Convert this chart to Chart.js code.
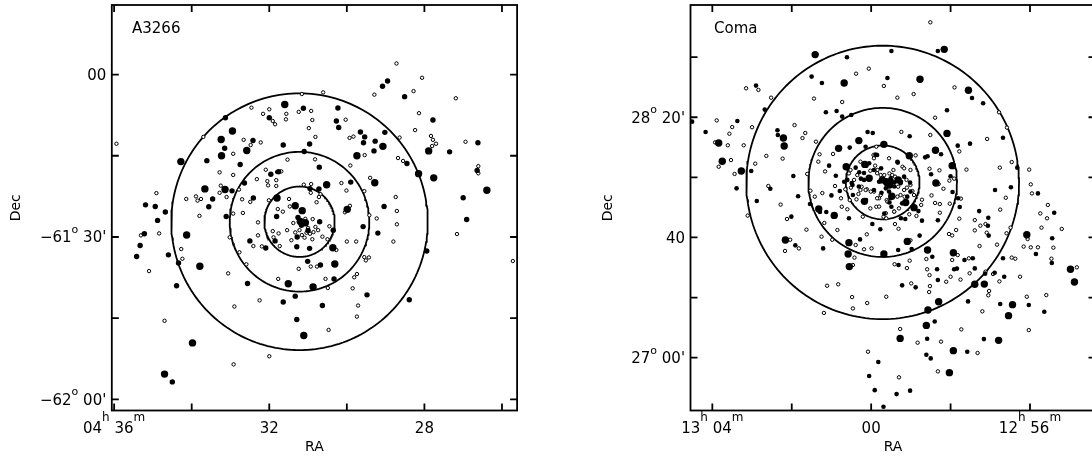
<!DOCTYPE html>
<html>
<head>
<meta charset="utf-8">
<title>A3266 and Coma</title>
<script src="https://cdn.jsdelivr.net/npm/chart.js@4.4.1/dist/chart.umd.min.js"></script>
<style>
  html, body { margin: 0; padding: 0; background: #fff; overflow: hidden; }
  #wrap { position: relative; width: 1092px; height: 461px; overflow: hidden; }
  canvas { position: absolute; top: 0; }
</style>
</head>
<body>
<div id="wrap">
  <canvas id="a3266Chart" width="546" height="461" style="left:0"></canvas>
  <canvas id="comaChart" width="560" height="461" style="left:546px"></canvas>
</div>
<script>
// ---- A3266 : RA in minutes past 04h, Dec in degrees ----
const a3266BigRA = [31.60, 32.95, 33.24, 32.58, 33.23, 29.07, 29.74, 27.89, 34.28, 28.15,
  27.76, 29.28, 30.52, 33.66, 33.14, 26.39, 31.80, 31.33, 31.15, 29.99,
  31.20, 31.07, 34.13, 30.36, 33.79, 30.31, 31.51, 30.87, 31.11, 33.98, 34.70];
const a3266BigDec = [-61.092, -61.174, -61.200, -61.234, -61.250, -61.221, -61.250, -61.235, -61.268, -61.305,
  -61.318, -61.333, -61.339, -61.352, -61.354, -61.356, -61.380, -61.404, -61.419, -61.415,
  -61.452, -61.456, -61.494, -61.533, -61.590, -61.583, -61.644, -61.654, -61.803, -61.826, -61.922];

const a3266MedRA = [28.95, 29.08, 28.51, 31.12, 30.23, 32.00, 33.13, 30.27, 30.21, 27.78,
  29.65, 29.54, 29.57, 29.02, 29.27, 32.42, 30.96, 31.64, 33.15, 31.10,
  29.30, 27.35, 26.62, 28.45, 33.61, 32.75, 30.71, 32.64, 31.96, 31.76,
  26.64, 29.90, 32.96, 30.95, 30.72, 35.19, 34.94, 34.68, 34.88, 35.22,
  35.33, 33.46, 33.56, 32.41, 29.04, 27.00, 26.91, 27.94, 33.11, 31.81,
  31.26, 30.70, 29.58, 29.20, 32.50, 32.09, 31.85, 31.28, 31.29, 30.96,
  30.35, 34.60, 34.34, 35.42, 31.01, 30.68, 32.56, 30.33, 34.39, 31.33,
  31.64, 29.48, 28.39, 30.63, 31.29, 34.50, 31.00, 31.17];
const a3266MedDec = [-61.020, -61.036, -61.068, -61.104, -61.103, -61.133, -61.133, -61.143, -61.163, -61.140,
  -61.177, -61.192, -61.210, -61.178, -61.205, -61.203, -61.214, -61.217, -61.227, -61.237,
  -61.235, -61.238, -61.210, -61.274, -61.265, -61.277, -61.285, -61.334, -61.307, -61.299,
  -61.295, -61.331, -61.358, -61.351, -61.352, -61.401, -61.406, -61.423, -61.449, -61.490,
  -61.526, -61.383, -61.407, -61.380, -61.406, -61.379, -61.446, -61.543, -61.437, -61.437,
  -61.440, -61.453, -61.468, -61.488, -61.512, -61.534, -61.512, -61.500, -61.530, -61.535,
  -61.479, -61.555, -61.580, -61.560, -61.575, -61.586, -61.643, -61.629, -61.650, -61.682,
  -61.700, -61.678, -61.693, -61.711, -61.754, -61.946, -61.480, -61.464];

const a3266OpenRA = [28.72, 29.29, 28.06, 28.28, 27.19, 31.16, 30.61, 31.24, 30.92, 32.46,
  32.00, 32.16, 31.56, 31.57, 31.91, 31.85, 30.03, 30.89, 30.98, 28.14,
  28.24, 29.93, 29.83, 28.64, 33.70, 32.66, 32.22, 32.48, 30.81, 32.93,
  29.54, 27.83, 27.78, 27.70, 27.80, 26.94, 28.68, 28.55, 30.82, 31.53,
  33.28, 32.93, 32.09, 31.80, 31.69, 29.91, 26.61, 26.61, 32.32, 32.05,
  32.03, 31.82, 31.82, 29.40, 30.14, 30.01, 29.55, 33.25, 33.28, 32.78,
  31.11, 30.92, 30.93, 34.91, 35.31, 34.84, 33.89, 34.14, 33.85, 33.76,
  33.10, 32.70, 32.49, 32.01, 31.49, 30.78, 30.72, 30.68, 31.78, 31.65,
  31.47, 28.74, 28.71, 28.71, 28.80, 30.05, 29.92, 27.16, 25.72, 33.80,
  32.93, 32.68, 32.29, 31.07, 30.88, 31.38, 30.45, 29.23, 29.42, 33.02,
  32.29, 32.41, 32.19, 31.91, 31.89, 31.73, 31.16, 31.09, 30.95, 30.86,
  30.89, 30.50, 30.27, 30.00, 29.76, 34.27, 34.24, 35.10, 32.59, 32.77,
  33.06, 30.93, 30.77, 31.24, 29.55, 29.43, 29.51, 31.77, 30.55, 30.49,
  29.81, 29.74, 29.85, 32.90, 32.25, 29.71, 29.74, 34.70, 30.47, 32.00,
  32.92, 35.94, 31.22, 31.00, 31.33, 30.81, 31.04, 30.74, 30.63, 31.43,
  31.76, 31.54];
const a3266OpenDec = [-60.966, -61.062, -61.010, -61.051, -61.073, -61.060, -61.055, -61.115, -61.112, -61.102,
  -61.107, -61.121, -61.121, -61.138, -61.143, -61.153, -61.139, -61.140, -61.165, -61.119,
  -61.171, -61.195, -61.191, -61.194, -61.192, -61.201, -61.209, -61.217, -61.192, -61.244,
  -61.248, -61.189, -61.201, -61.213, -61.220, -61.207, -61.257, -61.266, -61.261, -61.262,
  -61.301, -61.309, -61.293, -61.300, -61.298, -61.280, -61.282, -61.304, -61.322, -61.328,
  -61.341, -61.325, -61.343, -61.318, -61.334, -61.357, -61.359, -61.342, -61.364, -61.354,
  -61.339, -61.337, -61.364, -61.365, -61.495, -61.489, -61.375, -61.383, -61.388, -61.383,
  -61.377, -61.384, -61.392, -61.387, -61.383, -61.393, -61.377, -61.368, -61.414, -61.422,
  -61.406, -61.377, -61.420, -61.461, -61.514, -61.424, -61.404, -61.491, -61.574, -61.435,
  -61.428, -61.426, -61.455, -61.444, -61.445, -61.457, -61.467, -61.443, -61.433, -61.501,
  -61.495, -61.528, -61.529, -61.482, -61.501, -61.528, -61.494, -61.502, -61.490, -61.485,
  -61.507, -61.507, -61.540, -61.514, -61.514, -61.537, -61.567, -61.605, -61.584, -61.547,
  -61.612, -61.591, -61.591, -61.598, -61.562, -61.563, -61.572, -61.629, -61.629, -61.657,
  -61.624, -61.614, -61.658, -61.714, -61.695, -61.711, -61.745, -61.758, -61.786, -61.867,
  -61.892, -61.213, -61.479, -61.472, -61.486, -61.469, -61.487, -61.479, -61.499, -61.510,
  -61.489, -61.479];

const a3266Centre = [31.22, -61.453];   // RA min, Dec deg
const a3266Radii = [6.5, 12.9, 23.7];    // arcmin

const a3266RaTicks = [36, 34, 32, 30, 28, 26];
const a3266RaLabels = ['04^h 36^m', '', '32', '', '28', ''];
const a3266DecTicks = [-61, -61.25, -61.5, -61.75, -62];
const a3266DecLabels = ['00', '', '\u221261^o 30\'', '', '\u221262^o 00\''];

// ---- Coma : RA in minutes past 12h, Dec in degrees ----
const comaBigRA = [58.16, 61.41, 60.68, 58.77, 57.55, 62.21, 58.09, 60.31, 62.19, 63.84,
  63.27, 63.75, 60.82, 59.68, 58.38, 59.04, 57.96, 60.63, 60.16, 58.37,
  62.16, 56.08, 54.98, 54.88, 59.62, 59.54, 60.17, 58.92, 59.13, 61.32,
  60.93, 60.58, 60.56, 59.68, 59.09, 60.55, 58.58, 57.93, 57.39, 57.15,
  58.30, 58.57, 58.61, 59.27, 56.79, 56.44, 56.54, 57.93, 58.03, 59.48,
  59.72, 59.59, 59.32, 60.05];
const comaBigDec = [28.710, 28.681, 28.523, 28.544, 28.483, 28.218, 28.244, 28.204, 28.174, 28.191,
  28.035, 28.089, 28.161, 28.183, 28.150, 28.120, 28.065, 28.059, 28.072, 27.969,
  27.653, 27.682, 27.490, 27.420, 27.976, 27.958, 27.867, 27.832, 27.861, 27.825,
  27.789, 27.575, 27.638, 27.575, 27.645, 27.505, 27.597, 27.582, 27.407, 27.408,
  27.310, 27.264, 27.179, 27.107, 27.096, 27.294, 27.233, 27.039, 26.917, 27.895,
  27.986, 27.967, 27.986, 27.995];

const comaMedRA = [58.32, 59.49, 60.61, 61.50, 61.24, 59.59, 57.46, 57.18, 62.90, 62.68,
  61.14, 60.87, 60.73, 60.50, 58.09, 64.51, 64.17, 63.37, 62.36, 62.35,
  59.03, 60.09, 59.96, 56.68, 57.51, 63.02, 60.54, 60.14, 57.82, 58.58,
  58.24, 56.32, 55.80, 56.88, 56.48, 55.39, 61.96, 61.84, 62.88, 62.54,
  63.39, 62.01, 61.91, 61.21, 60.89, 61.06, 60.68, 60.49, 60.12, 60.18,
  60.26, 58.64, 58.49, 58.00, 57.95, 57.81, 58.81, 59.25, 59.14, 58.72,
  58.32, 57.77, 57.28, 57.05, 57.06, 57.04, 55.44, 55.45, 55.85, 56.68,
  56.65, 56.89, 60.39, 60.30, 59.89, 59.75, 59.49, 59.42, 59.74, 59.54,
  59.49, 59.33, 59.25, 59.02, 60.46, 60.13, 59.97, 59.77, 59.67, 61.54,
  61.29, 61.13, 60.56, 60.79, 61.00, 60.28, 59.32, 58.98, 58.78, 59.31,
  59.22, 58.88, 58.46, 58.34, 58.32, 57.91, 57.84, 57.65, 57.44, 57.39,
  57.13, 58.40, 58.59, 57.56, 57.16, 56.75, 56.03, 55.64, 57.58, 58.61,
  58.50, 59.02, 59.36, 59.91, 60.05, 59.82, 59.69,
  59.51, 59.42, 59.55, 59.63, 59.80, 59.26, 59.17, 59.09, 59.51, 59.93,
  60.05, 59.85, 60.60, 60.47, 60.31, 60.18, 59.93, 59.34, 59.05, 59.01, 59.22];
const comaMedDec = [28.701, 28.701, 28.666, 28.559, 28.523, 28.551, 28.440, 28.411, 28.509, 28.376,
  28.361, 28.368, 28.337, 28.346, 28.372, 28.309, 28.252, 28.313, 28.261, 28.235,
  28.228, 28.252, 28.246, 28.220, 28.187, 28.035, 28.165, 28.170, 28.176, 28.117,
  28.128, 28.054, 27.911, 27.930, 27.945, 27.804, 28.008, 27.895, 27.869, 27.937,
  27.939, 27.782, 27.623, 27.606, 28.009, 28.065, 27.976, 27.969, 28.065, 28.024,
  27.993, 28.111, 28.017, 28.006, 27.919, 27.884, 27.813, 27.773, 27.769, 27.760,
  27.762, 27.836, 27.813, 27.776, 27.732, 27.677, 27.662, 27.525, 27.575, 27.551,
  27.449, 27.471, 28.054, 28.028, 28.126, 28.050, 27.985, 27.972, 27.915, 27.861,
  27.837, 28.082, 27.976, 27.971, 27.902, 27.874, 27.741, 27.712, 27.800, 27.852,
  27.808, 27.808, 27.773, 27.924, 27.900, 27.656, 27.597, 27.603, 27.677, 27.514,
  27.401, 27.390, 27.560, 27.490, 27.431, 27.490, 27.494, 27.542, 27.551, 27.495,
  27.466, 27.201, 27.105, 27.312, 27.103, 27.298, 27.292, 27.255, 27.033, 27.016,
  26.996, 26.817, 26.798, 26.820, 26.898, 26.976, 26.728,
  27.995, 27.949, 27.921, 27.939, 27.976, 27.967, 28.004, 27.893, 27.884, 28.041,
  28.078, 28.124, 27.986, 27.958, 27.949, 27.986, 27.930, 28.087, 28.124, 27.921, 27.856];

const comaOpenRA = [58.51, 60.06, 60.38, 59.68, 57.90, 58.93, 59.34, 61.44, 60.73, 63.15,
  62.84, 62.52, 56.78, 63.89, 63.50, 63.57, 63.00, 61.93, 61.66, 61.73,
  58.39, 58.51, 59.24, 61.39, 56.58, 57.08, 63.93, 63.61, 63.21, 62.92,
  63.53, 63.84, 63.44, 62.64, 62.23, 59.87, 57.78, 58.88, 57.60, 56.76,
  56.46, 56.02, 55.98, 55.95, 56.61, 55.55, 55.74, 55.57, 55.71, 55.20,
  61.61, 62.28, 63.11, 62.59, 62.12, 62.17, 62.04, 61.82, 61.63, 61.25,
  61.16, 61.30, 61.33, 60.65, 60.02, 59.90, 59.94, 58.53, 58.28, 58.30,
  58.18, 58.03, 57.91, 58.02, 58.27, 58.39, 58.48, 58.72, 58.74, 59.04,
  58.86, 59.40, 59.31, 58.27, 58.04, 57.96, 57.86, 57.78, 57.74, 57.39,
  57.25, 57.12, 57.39, 57.09, 57.27, 56.06, 56.16, 55.98, 55.80, 55.41,
  55.46, 56.49, 56.59, 56.83, 54.82, 56.46, 56.37, 56.25, 56.93, 56.77,
  61.18, 60.85, 60.74, 60.60, 60.54, 60.76, 60.91, 61.23, 61.42, 61.53,
  60.98, 60.39, 60.18, 59.99, 60.11, 59.01, 59.03, 60.46, 60.42, 59.41,
  59.10, 61.11, 60.83, 60.48, 60.46, 60.10, 59.62, 61.19, 58.99, 58.61,
  58.59, 58.53, 58.52, 58.54, 58.11, 58.00, 57.96, 57.82, 57.54, 57.75,
  57.52, 57.03, 57.05, 57.12, 57.20, 56.08, 55.59, 56.03, 59.27, 58.83,
  58.24, 57.73, 57.32, 58.32, 60.08, 59.30,
  59.75, 59.54, 59.67, 59.61, 59.21, 59.10, 58.96, 58.92, 59.93, 60.11,
  60.24, 60.32, 60.37, 59.87, 60.02, 60.21, 59.69, 59.62, 59.42, 59.30,
  59.84, 59.40, 59.32, 59.80, 59.16, 60.56, 60.51, 60.96, 56.75,
  59.85, 59.76, 59.44, 59.47, 59.34, 59.26, 59.17, 59.01, 59.11, 60.01,
  60.14, 60.27, 59.85, 59.76, 59.59, 59.63, 59.42, 59.80, 60.43, 60.35,
  60.52, 60.27, 59.93, 59.55, 59.01, 59.17];
const comaOpenDec = [28.860, 28.603, 28.575, 28.507, 28.499, 28.462, 28.442, 28.437, 28.418, 28.494,
  28.485, 28.442, 28.361, 28.316, 28.279, 28.242, 28.278, 28.290, 28.246, 28.218,
  28.331, 28.235, 28.252, 28.198, 28.276, 28.213, 28.194, 28.178, 28.178, 28.076,
  28.096, 28.059, 28.019, 28.119, 28.104, 28.170, 28.144, 28.122, 28.043, 28.054,
  28.085, 28.043, 27.961, 27.911, 27.887, 27.847, 27.800, 27.773, 27.721, 27.714,
  28.019, 27.849, 27.788, 27.952, 27.769, 27.592, 27.654, 27.606, 27.710, 27.671,
  28.033, 28.128, 28.087, 27.934, 28.037, 28.065, 28.124, 28.048, 28.039, 27.963,
  27.937, 27.982, 27.993, 27.854, 27.852, 27.858, 27.900, 27.876, 27.847, 27.795,
  27.786, 27.741, 27.715, 27.804, 27.686, 27.678, 27.708, 27.771, 27.882, 27.763,
  27.732, 27.741, 27.706, 27.693, 27.619, 27.658, 27.616, 27.612, 27.612, 27.610,
  27.549, 27.721, 27.690, 27.627, 27.501, 27.555, 27.549, 27.449, 27.464, 27.423,
  27.747, 27.708, 27.837, 27.823, 27.874, 27.884, 27.952, 27.913, 27.893, 27.926,
  27.654, 27.625, 27.601, 27.606, 27.684, 27.651, 27.538, 27.514, 27.555, 27.518,
  27.497, 27.399, 27.407, 27.336, 27.273, 27.303, 27.338, 27.248, 27.412, 27.547,
  27.490, 27.458, 27.397, 27.364, 27.421, 27.449, 27.542, 27.569, 27.551, 27.433,
  27.468, 27.370, 27.346, 27.477, 27.257, 27.338, 27.347, 27.153, 27.159, 27.083,
  27.089, 27.157, 27.026, 26.924, 27.033, 26.891,
  27.985, 28.022, 28.013, 27.874, 28.059, 27.943, 27.924, 27.902, 27.921, 27.934,
  27.948, 27.908, 27.878, 27.837, 27.828, 27.782, 27.782, 27.773, 27.810, 27.828,
  28.041, 28.004, 27.948, 27.884, 27.893, 28.022, 27.943, 28.130, 27.821,
  28.023, 28.013, 28.041, 28.013, 27.893, 27.902, 27.930, 27.958, 27.986, 27.921,
  27.930, 27.930, 27.884, 27.902, 27.865, 27.801, 27.810, 27.838, 27.986, 28.013,
  28.041, 28.087, 28.106, 28.106, 28.041, 28.050];

const comaCentre = [59.71, 27.972];
const comaRadii = [12.3, 24.8, 45.5];

const comaRaTicks = [64, 62, 60, 58, 56];
const comaRaLabels = ['13^h 04^m', '', '00', '', '12^h 56^m'];
const comaDecTicks = [28 + 40 / 60, 28 + 20 / 60, 28, 27 + 40 / 60, 27 + 20 / 60, 27];
const comaDecLabels = ['', '28^o 20\'', '', '40', '', '27^o 00\''];

const FONT = '"DejaVu Sans", "Liberation Sans", sans-serif';

function zip(ra, dec) {
  return ra.map((x, i) => ({ x: x, y: dec[i] }));
}

// circle of given angular radius (arcmin) around the centre, in RA/Dec units
function ring(centre, radius) {
  const pts = [];
  const cosDec = Math.cos(centre[1] * Math.PI / 180);
  for (let i = 0; i <= 200; i++) {
    const t = (i / 200) * 2 * Math.PI;
    pts.push({
      x: centre[0] + (radius * Math.sin(t)) / (15 * cosDec),
      y: centre[1] + (radius * Math.cos(t)) / 60,
    });
  }
  return pts;
}

// text with "^x" marking a superscript character
function drawRich(ctx, spec, x, y, align, size, supSize, raise) {
  const parts = [];
  for (let i = 0; i < spec.length; i++) {
    if (spec[i] === '^') {
      parts.push({ t: spec[i + 1], sup: true });
      i++;
    } else if (parts.length && !parts[parts.length - 1].sup) {
      parts[parts.length - 1].t += spec[i];
    } else {
      parts.push({ t: spec[i], sup: false });
    }
  }
  let w = 0;
  parts.forEach((p) => {
    ctx.font = (p.sup ? supSize : size) + 'px ' + FONT;
    p.w = ctx.measureText(p.t).width;
    w += p.w;
  });
  let cx = align === 'center' ? x - w / 2 : align === 'right' ? x - w : x;
  ctx.textAlign = 'left';
  ctx.textBaseline = 'alphabetic';
  parts.forEach((p) => {
    ctx.font = (p.sup ? supSize : size) + 'px ' + FONT;
    ctx.fillText(p.t, cx, p.sup ? y - raise : y);
    cx += p.w;
  });
}

const framePlugin = {
  id: 'frame',
  afterDraw(chart, args, o) {
    const ctx = chart.ctx;
    const a = chart.chartArea;
    const xs = chart.scales.x;
    const ys = chart.scales.y;
    ctx.save();
    ctx.strokeStyle = '#000';
    ctx.fillStyle = '#000';
    ctx.lineWidth = 1.8;
    ctx.strokeRect(a.left, a.top, a.right - a.left, a.bottom - a.top);

    // inward ticks on all four sides
    ctx.beginPath();
    o.xTicks.forEach((v) => {
      const px = xs.getPixelForValue(v);
      ctx.moveTo(px, a.bottom); ctx.lineTo(px, a.bottom - 7);
      ctx.moveTo(px, a.top); ctx.lineTo(px, a.top + 7);
    });
    o.yTicks.forEach((v) => {
      const py = ys.getPixelForValue(v);
      ctx.moveTo(a.left, py); ctx.lineTo(a.left + 7, py);
      ctx.moveTo(a.right, py); ctx.lineTo(a.right - 7, py);
    });
    ctx.stroke();

    o.xTicks.forEach((v, i) => {
      if (o.xLabels[i]) drawRich(ctx, o.xLabels[i], xs.getPixelForValue(v), a.bottom + 22.8, 'center', 15, 12, 12.5);
    });
    o.yTicks.forEach((v, i) => {
      if (o.yLabels[i]) drawRich(ctx, o.yLabels[i], a.left - 5.5, ys.getPixelForValue(v) + 5.5, 'right', 15, 11, 9.5);
    });

    ctx.font = '15px ' + FONT;
    ctx.textAlign = 'left';
    ctx.textBaseline = 'alphabetic';
    ctx.fillText(o.name, a.left + o.nameOffset, 33);

    ctx.font = '14px ' + FONT;
    ctx.textAlign = 'center';
    ctx.textBaseline = 'middle';
    ctx.fillText('RA', (a.left + a.right) / 2, 447);
    ctx.save();
    ctx.translate(o.decX, (a.top + a.bottom) / 2);
    ctx.rotate(-Math.PI / 2);
    ctx.fillText('Dec', 0, 0);
    ctx.restore();
    ctx.restore();
  },
};

function buildChart(id, p) {
  const ctx = document.getElementById(id).getContext('2d');
  const rings = p.radii.map((r) => ({
    data: ring(p.centre, r),
    showLine: true,
    pointRadius: 0,
    borderColor: '#000',
    borderWidth: 1.8,
    fill: false,
  }));
  return new Chart(ctx, {
    type: 'scatter',
    data: {
      datasets: [
        { data: zip(p.bigRA, p.bigDec), pointRadius: p.bigSize, pointBackgroundColor: '#000', pointBorderWidth: 0 },
        { data: zip(p.medRA, p.medDec), pointRadius: p.medSize, pointBackgroundColor: '#000', pointBorderWidth: 0 },
        { data: zip(p.openRA, p.openDec), pointRadius: 1.7, pointBackgroundColor: '#fff', pointBorderColor: '#000', pointBorderWidth: 1 },
      ].concat(rings),
    },
    options: {
      responsive: false,
      animation: false,
      events: [],
      layout: { padding: p.padding },
      scales: {
        x: { type: 'linear', display: false, reverse: true, min: p.raMin, max: p.raMax },
        y: { type: 'linear', display: false, min: p.decMin, max: p.decMax },
      },
      plugins: {
        legend: { display: false },
        tooltip: { enabled: false },
        frame: {
          xTicks: p.raTicks, xLabels: p.raLabels,
          yTicks: p.decTicks, yLabels: p.decLabels,
          name: p.name, nameOffset: p.nameOffset, decX: p.decX,
        },
      },
    },
    plugins: [framePlugin],
  });
}

buildChart('a3266Chart', {
  bigRA: a3266BigRA, bigDec: a3266BigDec, bigSize: 3.7,
  medRA: a3266MedRA, medDec: a3266MedDec, medSize: 2.7,
  openRA: a3266OpenRA, openDec: a3266OpenDec,
  centre: a3266Centre, radii: a3266Radii,
  raTicks: a3266RaTicks, raLabels: a3266RaLabels,
  decTicks: a3266DecTicks, decLabels: a3266DecLabels,
  raMin: 25.61, raMax: 36.06, decMin: -62.034, decMax: -60.786,
  padding: { left: 111.8, right: 28.9, top: 5, bottom: 50.5 },
  name: 'A3266', nameOffset: 20.2, decX: 16,
});

buildChart('comaChart', {
  bigRA: comaBigRA, bigDec: comaBigDec, bigSize: 3.7,
  medRA: comaMedRA, medDec: comaMedDec, medSize: 2.3,
  openRA: comaOpenRA, openDec: comaOpenDec,
  centre: comaCentre, radii: comaRadii,
  raTicks: comaRaTicks, raLabels: comaRaLabels,
  decTicks: comaDecTicks, decLabels: comaDecLabels,
  raMin: 54.35, raMax: 64.55, decMin: 26.707, decMax: 28.956,
  padding: { left: 144.5, right: 10.5, top: 5, bottom: 50.5 },
  name: 'Coma', nameOffset: 23.5, decX: 62,
});
</script>
</body>
</html>
